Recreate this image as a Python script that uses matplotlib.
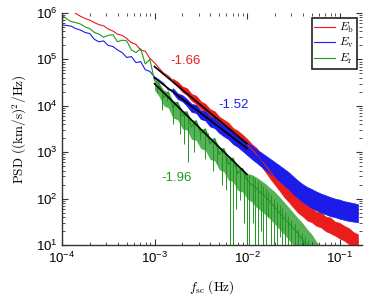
import matplotlib
matplotlib.use('Agg')
import matplotlib.pyplot as plt

plt.rcParams.update({
    'font.family': ['Liberation Sans', 'DejaVu Sans'],
    'mathtext.fontset': 'custom',
    'mathtext.rm': 'Liberation Sans',
    'mathtext.it': 'Liberation Sans:italic',
    'mathtext.bf': 'Liberation Sans:bold',
    'axes.unicode_minus': False,
})

# ---------------- data ----------------
freq = [1.00e-4, 1.12e-4, 1.26e-4, 1.41e-4, 1.58e-4, 1.78e-4, 2.00e-4, 2.24e-4, 2.51e-4, 2.82e-4,
        3.16e-4, 3.55e-4, 3.98e-4, 4.47e-4, 5.01e-4, 5.62e-4, 6.31e-4, 7.08e-4, 7.94e-4, 8.91e-4,
        1.00e-3, 1.12e-3, 1.26e-3, 1.41e-3, 1.58e-3, 1.78e-3, 2.00e-3, 2.24e-3, 2.51e-3, 2.82e-3,
        3.16e-3, 3.55e-3, 3.98e-3, 4.47e-3, 5.01e-3, 5.62e-3, 6.31e-3, 7.08e-3, 7.94e-3, 8.91e-3,
        1.00e-2, 1.12e-2, 1.26e-2, 1.41e-2, 1.58e-2, 1.78e-2, 2.00e-2, 2.24e-2, 2.51e-2, 2.82e-2,
        3.16e-2, 3.55e-2, 3.98e-2, 4.47e-2, 5.01e-2, 5.62e-2, 6.31e-2, 7.08e-2, 7.94e-2, 8.91e-2,
        1.00e-1, 1.12e-1, 1.26e-1, 1.41e-1, 1.58e-1]

psd_b = [1.3e6, 1.2e6, 1.1e6, 9.8e5, 8.5e5, 7.6e5, 7.0e5, 6.2e5, 5.6e5, 5.3e5,
         4.5e5, 4.1e5, 3.5e5, 3.3e5, 2.8e5, 2.3e5, 2.1e5, 1.6e5, 1.5e5, 1.05e5,
         8.5e4, 6.5e4, 5.0e4, 4.4e4, 3.5e4, 2.9e4, 2.3e4, 2.0e4, 1.55e4, 1.35e4,
         1.05e4, 8.8e3, 7.0e3, 6.0e3, 4.8e3, 4.0e3, 3.3e3, 2.7e3, 2.2e3, 1.9e3,
         1.48e3, 1.17e3, 910, 710, 525, 380, 280, 210, 158, 120,
         93, 74, 60, 51, 45, 39, 35, 30, 27, 24,
         21, 19, 16, 14, 12]
psd_v = [5.5e5, 5.4e5, 5.2e5, 4.6e5, 4.3e5, 3.8e5, 3.6e5, 2.7e5, 2.4e5, 2.5e5,
         2.0e5, 1.9e5, 1.6e5, 1.4e5, 1.1e5, 1.15e5, 8.5e4, 9.0e4, 6.0e4, 5.5e4,
         4.2e4, 3.6e4, 3.0e4, 2.2e4, 2.2e4, 1.6e4, 1.5e4, 1.2e4, 9.0e3, 8.8e3,
         6.5e3, 6.2e3, 4.6e3, 4.3e3, 3.4e3, 2.9e3, 2.5e3, 2.0e3, 1.75e3, 1.45e3,
         1.2e3, 1.0e3, 830, 710, 590, 500, 420, 355, 295, 245,
         195, 158, 132, 112, 100, 89, 79, 72, 66, 62,
         58, 54, 51, 49, 47]
psd_r = [9.0e5, 7.5e5, 6.5e5, 6.2e5, 5.8e5, 5.0e5, 4.6e5, 3.8e5, 3.5e5, 3.0e5,
         3.3e5, 3.4e5, 2.4e5, 2.6e5, 2.5e5, 1.6e5, 1.4e5, 1.7e5, 8.0e4, 1.0e5,
         3.5e4, 3.0e4, 1.5e4, 2.0e4, 9.0e3, 1.2e4, 6.0e3, 7.5e3, 3.5e3, 4.8e3,
         2.5e3, 3.2e3, 1.5e3, 2.0e3, 900, 1.2e3, 550, 750, 350, 450,
         250, 200, 170, 130, 110, 85, 65, 50, 38, 30,
         23, 18, 13, 10, 8.0, 6.0, 5.0, 4.0, 3.0, 2.5,
         2.0, 1.6, 1.3, 1.1, 1.0]

# noise envelopes of E_b and E_v (from freq[24] onward)
bv_f = freq[24:]
b_hi = [3.8e4, 3.3e4, 2.6e4, 2.4e4, 1.8e4, 1.65e4, 1.25e4, 1.1e4, 8.5e3, 7.6e3,
        5.8e3, 5.0e3, 4.3e3, 3.3e3, 2.9e3, 2.4e3, 1.95e3, 1.5e3, 1.25e3, 950,
        720, 500, 390, 280, 215, 160, 130, 100, 85, 70,
        64, 52, 50, 41, 39, 32, 30, 26, 23, 19, 17]
b_lo = [3.2e4, 2.6e4, 2.0e4, 1.7e4, 1.3e4, 1.1e4, 8.8e3, 7.0e3, 5.7e3, 4.8e3,
        3.9e3, 3.1e3, 2.5e3, 2.1e3, 1.65e3, 1.45e3, 1.1e3, 880, 650, 520,
        380, 270, 200, 150, 110, 85, 65, 50, 42, 34,
        31, 26, 24, 20, 18, 16, 14, 12.5, 10.5, 9, 7.5]
v_hi = [2.4e4, 1.85e4, 1.7e4, 1.4e4, 1.1e4, 1.05e4, 8.0e3, 7.6e3, 5.8e3, 5.4e3,
        4.3e3, 3.7e3, 3.3e3, 2.6e3, 2.3e3, 1.95e3, 1.6e3, 1.4e3, 1.15e3, 1.0e3,
        850, 720, 610, 520, 440, 370, 300, 245, 205, 178,
        160, 142, 128, 118, 108, 100, 95, 88, 84, 80, 76]
v_lo = [1.9e4, 1.4e4, 1.25e4, 1.0e4, 7.4e3, 7.0e3, 5.2e3, 4.8e3, 3.6e3, 3.3e3,
        2.6e3, 2.2e3, 1.9e3, 1.5e3, 1.3e3, 1.07e3, 880, 720, 600, 500,
        410, 345, 290, 240, 195, 160, 126, 102, 85, 72,
        63, 56, 50, 46, 42, 40, 37, 35, 33, 32, 31]

# noise envelope of E_r (from freq[20] onward)
r_f = freq[20:]
r_hi = [3.6e4, 3.1e4, 2.2e4, 2.0e4, 1.3e4, 1.2e4, 8.0e3, 7.5e3, 5.0e3, 4.8e3,
        3.2e3, 3.2e3, 2.0e3, 2.0e3, 1.3e3, 1.2e3, 800, 750, 500, 450,
        350, 330, 290, 250, 210, 170, 140, 110, 85, 65,
        50, 38, 30, 22, 17, 12, 9, 7, 6, 5,
        4, 3.5, 3, 2.5, 2]
r_lo = [2.2e4, 1.6e4, 1.0e4, 9.0e3, 5.5e3, 5.0e3, 3.2e3, 3.0e3, 1.9e3, 1.8e3,
        1.2e3, 1.1e3, 700, 650, 420, 380, 250, 230, 150, 140,
        100, 85, 65, 55, 45, 36, 28, 22, 17, 13,
        10, 8, 6, 5, 4, 3, 2.5, 2, 1.8, 1.6,
        1.4, 1.3, 1.2, 1.1, 1.0]

# deep downward spikes of E_r
spike_f = [1.07e-3, 1.2e-3, 1.37e-3, 1.6e-3, 1.9e-3, 2.1e-3, 2.32e-3, 2.7e-3, 3.13e-3, 3.5e-3,
           3.82e-3, 4.3e-3, 4.79e-3, 5.3e-3, 5.9e-3, 6.6e-3, 7.1e-3, 7.6e-3, 8.5e-3, 9.2e-3,
           1.01e-2, 1.05e-2, 1.15e-2, 1.22e-2, 1.30e-2, 1.40e-2, 1.48e-2, 1.60e-2, 1.70e-2, 1.82e-2,
           1.95e-2, 2.10e-2, 2.25e-2, 2.40e-2, 2.60e-2, 2.80e-2, 3.00e-2, 3.30e-2, 3.60e-2, 3.90e-2,
           4.20e-2, 4.60e-2]
spike_top = [2.6e4, 2.0e4, 1.6e4, 1.2e4, 8.0e3, 6.8e3, 5.7e3, 4.2e3, 3.2e3, 2.6e3,
             2.1e3, 1.7e3, 1.4e3, 1.1e3, 900, 720, 630, 550, 430, 380,
             300, 330, 300, 280, 240, 220, 190, 160, 140, 120,
             100, 85, 72, 62, 52, 42, 35, 28, 22, 18,
             16, 13]
spike_bot = [1.9e4, 8.0e3, 1.3e4, 4.0e3, 2.5e3, 1.5e3, 620, 1.0e3, 1.8e3, 700,
             2.6e3, 400, 590, 200, 150, 5, 5, 60, 93, 30,
             5, 5, 30, 5, 5, 20, 5, 5, 40, 5,
             5, 5, 15, 5, 5, 5, 5, 5, 5, 5,
             5, 5]

# power-law fits
fit_f = [1e-3, 1e-2]
fit_b = [7.0e4, 1.53e3]
fit_v = [4.0e4, 1.21e3]
fit_r = [3.0e4, 3.3e2]
slopes = ['-1.66', '-1.52', '-1.96']
slope_pos_f = [2.15e-3, 7.13e-3, 1.72e-3]
slope_pos_p = [9.25e4, 1.04e4, 278]

labels = [r'$E_{\rm b}$', r'$E_{\rm v}$', r'$E_{\rm r}$']

RED = '#ea1c1c'
BLUE = '#1c1ce8'
GREEN = '#1f971f'

# ---------------- figure ----------------
fig = plt.figure(figsize=(3.74, 3.02), dpi=100)
ax = fig.add_axes([62 / 374, 57 / 302, 300 / 374, 232 / 302])

ax.fill_between(bv_f, b_lo, b_hi, color=RED, lw=0.5)
l1, = ax.plot(freq, psd_b, color=RED, lw=0.8)
ax.fill_between(bv_f, v_lo, v_hi, color=BLUE, lw=0.5)
l2, = ax.plot(freq, psd_v, color=BLUE, lw=0.8)
ax.fill_between(r_f, r_lo, r_hi, color=GREEN, lw=0, alpha=0.75)
ax.vlines(spike_f, spike_bot, spike_top, color=GREEN, lw=0.7)
l3, = ax.plot(freq, psd_r, color=GREEN, lw=0.8)

for fv in (fit_b, fit_v, fit_r):
    ax.plot(fit_f, fv, color='black', lw=1.2)

for s, x, y, c in zip(slopes, slope_pos_f, slope_pos_p, (RED, BLUE, GREEN)):
    ax.text(x, y, s, color=c, fontsize=9.5, ha='center', va='center')

ax.set_xscale('log')
ax.set_yscale('log')
ax.set_xlim(1e-4, 0.175)
ax.set_ylim(10, 1e6)

for sp in ('top', 'right'):
    ax.spines[sp].set_visible(False)
for sp in ('left', 'bottom'):
    ax.spines[sp].set_color('#333333')
    ax.spines[sp].set_linewidth(1.0)

ax.tick_params(which='both', direction='in', top=True, right=True,
               labelsize=9.5, color='#333333')
ax.tick_params(axis='y', pad=3)
ax.tick_params(axis='x', pad=4.5)
ax.tick_params(which='major', length=4)
ax.tick_params(which='minor', length=2)

ax.set_ylabel(r'$\mathrm{PSD\ ((km/s)^2/Hz)}$', fontsize=9.5, math_fontfamily='cm')
ax.set_xlabel(r'$f_{\rm sc}\ \mathrm{(Hz)}$', fontsize=9.5, math_fontfamily='cm')
ax.yaxis.set_label_coords(-0.11, 0.5)
ax.xaxis.set_label_coords(0.5, -0.145)

leg = ax.legend([l1, l2, l3], labels, loc='upper right', fontsize=8.5,
                handlelength=1.7, handletextpad=0.35, borderpad=0.25,
                labelspacing=0.1, borderaxespad=0.45, fancybox=False,
                edgecolor='#222222', framealpha=1)
leg.get_frame().set_linewidth(1.2)
for t in leg.get_texts():
    t.set_math_fontfamily('cm')

fig.savefig('out.png', dpi=100)
